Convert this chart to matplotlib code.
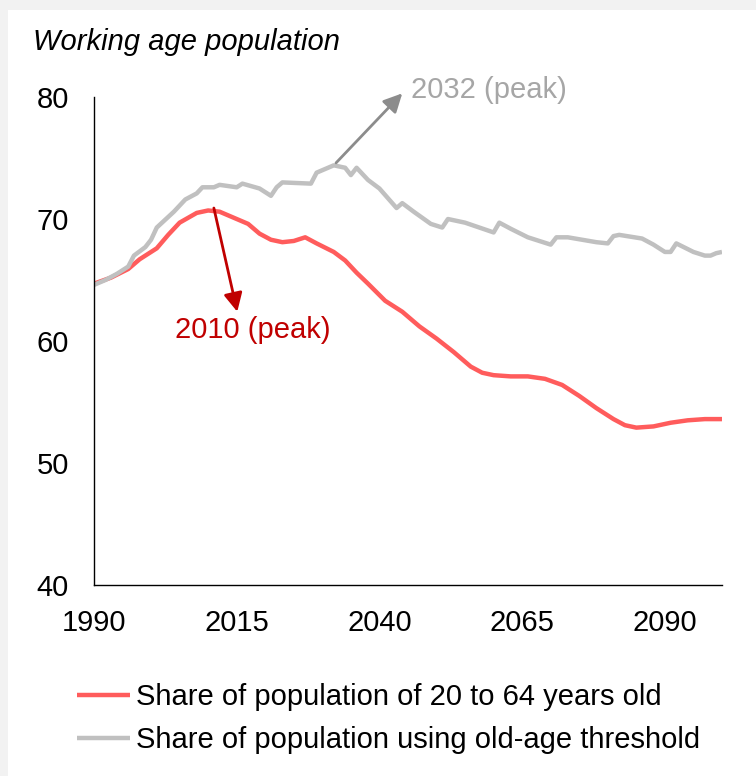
import matplotlib.pyplot as plt
from matplotlib.patches import Rectangle

plt.rcParams['font.family'] = ['Liberation Sans', 'DejaVu Sans']

# share of population aged 20-64 (%)
red_years = [1990, 1993, 1996, 1998, 2001, 2003, 2005, 2008, 2010, 2012, 2014,
             2017, 2019, 2021, 2023, 2025, 2027, 2029, 2032, 2034, 2036, 2038,
             2041, 2044, 2047, 2050, 2053, 2056, 2058, 2060, 2063, 2066, 2069,
             2072, 2075, 2078, 2081, 2083, 2085, 2088, 2091, 2094, 2097, 2100]
red_vals = [64.7, 65.2, 65.9, 66.7, 67.6, 68.7, 69.7, 70.5, 70.7, 70.6, 70.2,
            69.6, 68.8, 68.3, 68.1, 68.2, 68.5, 68.0, 67.3, 66.6, 65.6, 64.7,
            63.3, 62.4, 61.2, 60.2, 59.1, 57.9, 57.4, 57.2, 57.1, 57.1, 56.9,
            56.4, 55.5, 54.5, 53.6, 53.1, 52.9, 53.0, 53.3, 53.5, 53.6, 53.6]

# share of population below the old-age threshold (%)
gray_years = [1990, 1992, 1994, 1996, 1997, 1999, 2000, 2001, 2004, 2006, 2008,
              2009, 2011, 2012, 2015, 2016, 2019, 2021, 2022, 2023, 2028, 2029,
              2031, 2032, 2034, 2035, 2036, 2038, 2040, 2043, 2044, 2046, 2049,
              2051, 2052, 2054, 2055, 2060, 2061, 2063, 2066, 2070, 2071, 2073,
              2078, 2080, 2081, 2082, 2086, 2088, 2090, 2091, 2092, 2095, 2097,
              2098, 2099, 2100]
gray_vals = [64.6, 65.0, 65.5, 66.1, 67.0, 67.7, 68.3, 69.3, 70.6, 71.6, 72.1,
             72.6, 72.6, 72.8, 72.6, 72.9, 72.5, 71.9, 72.6, 73.0, 72.9, 73.8,
             74.2, 74.4, 74.2, 73.6, 74.2, 73.2, 72.5, 70.9, 71.3, 70.6, 69.6,
             69.3, 70.0, 69.8, 69.7, 68.9, 69.7, 69.2, 68.5, 67.9, 68.5, 68.5,
             68.1, 68.0, 68.6, 68.7, 68.4, 67.9, 67.3, 67.3, 68.0, 67.3, 67.0,
             67.0, 67.2, 67.3]

xticks = [1990, 2015, 2040, 2065, 2090]
yticks = [40, 50, 60, 70, 80]

RED = '#ff5c5c'
GRAY = '#c0c0c0'

fig = plt.figure(figsize=(7.56, 7.76), dpi=100, facecolor='#f2f2f2')
fig.patches.append(Rectangle((8 / 756, 0), 1, 1 - 10 / 776, transform=fig.transFigure,
                             facecolor='white', edgecolor='none', zorder=-5))

ax = fig.add_axes([0.1243, 0.2461, 0.955 - 0.1243, 0.875 - 0.2461])
ax.set_facecolor('none')
ax.set_zorder(2)

ax.plot(red_years, red_vals, color=RED, lw=3.2, solid_capstyle='butt',
        label='Share of population of 20 to 64 years old')
ax.plot(gray_years, gray_vals, color=GRAY, lw=3.2, solid_capstyle='butt',
        label='Share of population using old-age threshold')

ax.set_xlim(1990, 2100)
ax.set_ylim(40, 80)
ax.set_xticks(xticks)
ax.set_yticks(yticks)
ax.tick_params(length=0, labelsize=21)
ax.tick_params(axis='y', pad=18)
ax.tick_params(axis='x', pad=17)
for s in ['top', 'right']:
    ax.spines[s].set_visible(False)
for s in ['left', 'bottom']:
    ax.spines[s].set_linewidth(1)
    ax.spines[s].set_color('black')

# peak markers
ax.annotate('', xy=(2015.1, 62.4), xytext=(2011.0, 70.9),
            arrowprops=dict(arrowstyle='-|>', color='#c00000', lw=2,
                            mutation_scale=28, shrinkA=0, shrinkB=0))
ax.text(2017.8, 60.9, '2010 (peak)', color='#c00000', fontsize=21,
        ha='center', va='center')
ax.annotate('', xy=(2044.0, 80.3), xytext=(2032.4, 74.6), annotation_clip=False,
            arrowprops=dict(arrowstyle='-|>', color='#8c8c8c', lw=2,
                            mutation_scale=28, shrinkA=0, shrinkB=0))
ax.text(2045.5, 80.6, '2032 (peak)', color='#a6a6a6', fontsize=21,
        ha='left', va='center', clip_on=False)

fig.text(33 / 756, 1 - 42 / 776, 'Working age population', fontsize=21,
         style='italic', ha='left', va='center')

fig.legend(loc='upper left', bbox_to_anchor=(77 / 756, 1 - 683 / 776),
           frameon=False, fontsize=21, handlelength=1.83, handletextpad=0.2,
           labelspacing=0.52, borderpad=0, borderaxespad=0)

fig.savefig('out.png', dpi=100, facecolor=fig.get_facecolor())
